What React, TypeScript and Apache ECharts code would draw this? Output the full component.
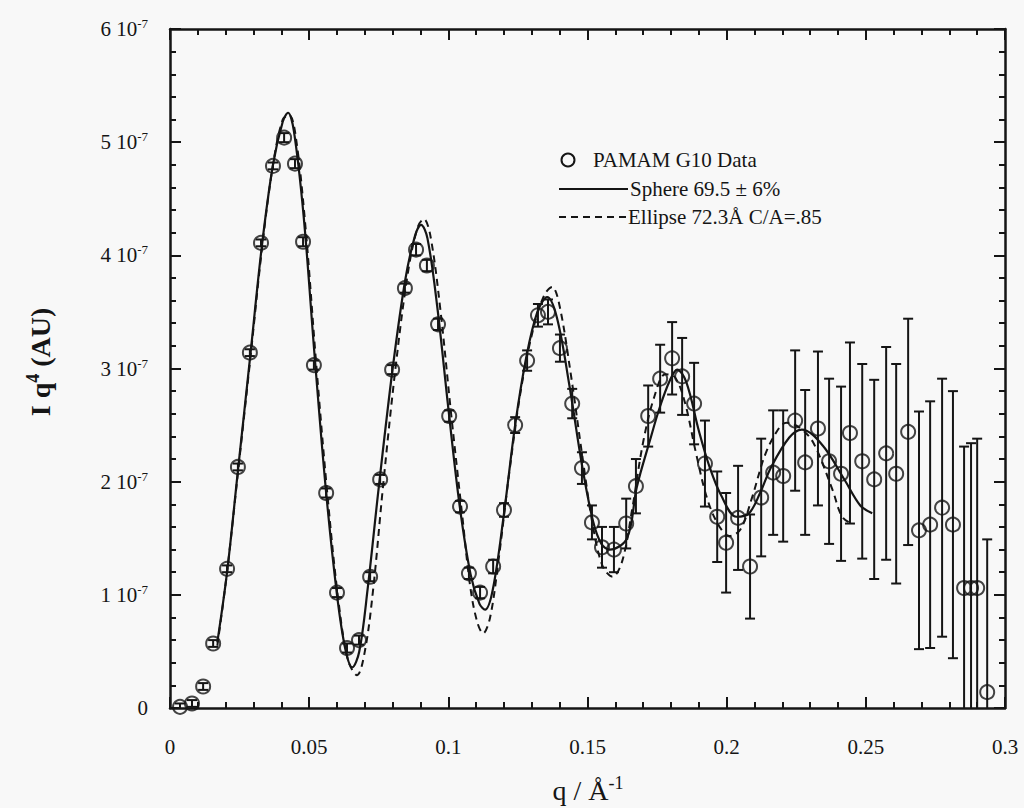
import React, { useEffect, useRef } from "react";
import * as echarts from "echarts";

// ---- data (I in units of 1e-7) ----
const qData = [0.0036, 0.0079, 0.0119, 0.0155, 0.0205, 0.0244, 0.0287, 0.0327, 0.0370, 0.0410, 0.0449, 0.0478, 0.0517, 0.0561, 0.0600, 0.0636, 0.0679, 0.0719, 0.0755, 0.0798, 0.0844, 0.0884, 0.0923, 0.0963, 0.1003, 0.1042, 0.1074, 0.1114, 0.1161, 0.1200, 0.1240, 0.1283, 0.1322, 0.1358, 0.1401, 0.1445, 0.1480, 0.1516, 0.1552, 0.1595, 0.1639, 0.1674, 0.1718, 0.1761, 0.1804, 0.1840, 0.1883, 0.1922, 0.1966, 0.1998, 0.2041, 0.2084, 0.2124, 0.2167, 0.2203, 0.2246, 0.2282, 0.2328, 0.2368, 0.2411, 0.2443, 0.2487, 0.2530, 0.2573, 0.2609, 0.2652, 0.2691, 0.2731, 0.2774, 0.2813, 0.2853, 0.2878, 0.2900, 0.2936];
const iData = [0.01, 0.04, 0.19, 0.57, 1.23, 2.13, 3.14, 4.11, 4.79, 5.04, 4.81, 4.12, 3.03, 1.90, 1.02, 0.53, 0.60, 1.16, 2.02, 2.99, 3.71, 4.05, 3.91, 3.39, 2.58, 1.78, 1.19, 1.02, 1.25, 1.75, 2.50, 3.07, 3.47, 3.50, 3.18, 2.69, 2.12, 1.64, 1.42, 1.40, 1.63, 1.96, 2.58, 2.91, 3.09, 2.93, 2.69, 2.16, 1.69, 1.46, 1.68, 1.25, 1.86, 2.08, 2.05, 2.54, 2.17, 2.47, 2.18, 2.07, 2.43, 2.18, 2.02, 2.25, 2.07, 2.44, 1.57, 1.62, 1.77, 1.62, 1.06, 1.06, 1.06, 0.14];
const errData = [0.03, 0.03, 0.03, 0.03, 0.03, 0.03, 0.03, 0.03, 0.03, 0.04, 0.04, 0.04, 0.04, 0.04, 0.04, 0.04, 0.04, 0.04, 0.04, 0.04, 0.04, 0.05, 0.05, 0.05, 0.05, 0.05, 0.05, 0.05, 0.06, 0.06, 0.07, 0.09, 0.10, 0.11, 0.12, 0.13, 0.14, 0.15, 0.18, 0.20, 0.22, 0.24, 0.27, 0.30, 0.32, 0.34, 0.36, 0.38, 0.40, 0.44, 0.46, 0.46, 0.52, 0.55, 0.58, 0.62, 0.64, 0.68, 0.73, 0.77, 0.80, 0.86, 0.88, 0.94, 0.97, 1.00, 1.05, 1.09, 1.14, 1.18, 1.25, 1.28, 1.32, 1.35];

const sphereQ = [0.017, 0.0205, 0.0245, 0.029, 0.033, 0.037, 0.0405, 0.0424, 0.0445, 0.048, 0.052, 0.056, 0.060, 0.063, 0.0655, 0.068, 0.071, 0.075, 0.080, 0.0845, 0.088, 0.0902, 0.0925, 0.096, 0.100, 0.104, 0.108, 0.1112, 0.1132, 0.116, 0.120, 0.124, 0.128, 0.132, 0.1355, 0.139, 0.1435, 0.148, 0.152, 0.155, 0.158, 0.1642, 0.1677, 0.1725, 0.176, 0.1797, 0.1822, 0.1855, 0.190, 0.194, 0.198, 0.2035, 0.208, 0.212, 0.216, 0.2225, 0.227, 0.2345, 0.2425, 0.248, 0.2523];
const sphereI = [0.58, 1.2, 2.12, 3.15, 4.08, 4.8, 5.18, 5.26, 5.1, 4.35, 3.1, 1.93, 1.0, 0.52, 0.36, 0.5, 1.05, 1.95, 3.0, 3.78, 4.17, 4.27, 4.15, 3.55, 2.65, 1.8, 1.18, 0.92, 0.87, 1.05, 1.72, 2.5, 3.1, 3.5, 3.63, 3.45, 2.85, 2.15, 1.65, 1.45, 1.40, 1.50, 1.95, 2.37, 2.66, 2.9, 2.99, 2.88, 2.45, 2.12, 1.88, 1.69, 1.72, 1.9, 2.13, 2.39, 2.46, 2.32, 2.01, 1.79, 1.72];

const ellipseQ = [0.017, 0.0205, 0.0245, 0.029, 0.033, 0.037, 0.0405, 0.0428, 0.045, 0.0485, 0.0525, 0.0565, 0.0605, 0.064, 0.0672, 0.070, 0.073, 0.0765, 0.081, 0.0855, 0.089, 0.0912, 0.0935, 0.097, 0.101, 0.105, 0.108, 0.1105, 0.1125, 0.115, 0.118, 0.122, 0.126, 0.1305, 0.1345, 0.1373, 0.140, 0.144, 0.148, 0.152, 0.1555, 0.159, 0.1625, 0.166, 0.170, 0.174, 0.178, 0.1815, 0.185, 0.189, 0.193, 0.197, 0.201, 0.205, 0.209, 0.214, 0.219, 0.2215, 0.226, 0.231, 0.238, 0.2415, 0.2455];
const ellipseI = [0.55, 1.2, 2.1, 3.12, 4.05, 4.8, 5.2, 5.24, 5.08, 4.3, 3.05, 1.9, 0.95, 0.42, 0.29, 0.5, 1.05, 1.95, 3.0, 3.85, 4.25, 4.32, 4.18, 3.55, 2.6, 1.7, 1.05, 0.75, 0.66, 0.8, 1.3, 2.1, 2.8, 3.35, 3.65, 3.72, 3.55, 2.95, 2.25, 1.6, 1.25, 1.16, 1.3, 1.75, 2.35, 2.75, 2.95, 2.92, 2.7, 2.25, 1.85, 1.62, 1.52, 1.58, 1.85, 2.25, 2.48, 2.52, 2.48, 2.35, 1.93, 1.69, 1.62];

const xTicks = ["0", "0.05", "0.1", "0.15", "0.2", "0.25", "0.3"];
const yTicks = [0, 1, 2, 3, 4, 5, 6];

const FONT = "Liberation Serif";
const INK = "#151515";

export default function App() {
  const ref = useRef<HTMLDivElement>(null);
  useEffect(() => {
    if (!ref.current) return;
    const chart = echarts.init(ref.current, undefined, { renderer: "svg" });
    const pts = qData.map((q, i) => [q, iData[i], errData[i]]);
    const sphere = sphereQ.map((q, i) => [q, sphereI[i]]);
    const ellipse = ellipseQ.map((q, i) => [q, ellipseI[i]]);

    const axisCommon = {
      min: 0,
      axisLine: { show: true, onZero: false, lineStyle: { color: INK, width: 2.5 } },
      axisTick: { show: true, inside: true, length: 11, lineStyle: { color: INK, width: 2 } },
      minorTick: { show: true, splitNumber: 5, length: 6, lineStyle: { color: INK, width: 2 } },
      splitLine: { show: false },
      minorSplitLine: { show: false },
    };

    chart.setOption({
      animation: false,
      backgroundColor: "#f8f8f8",
      grid: { left: 170, right: 19, top: 29, bottom: 100 },
      xAxis: [
        {
          ...axisCommon,
          type: "value",
          max: 0.3,
          interval: 0.05,
          position: "bottom",
          axisLabel: {
            margin: 28,
            color: INK,
            fontFamily: FONT,
            fontSize: 21,
            formatter: (v: number) => xTicks[Math.round(v / 0.05)] ?? "",
          },
        },
        {
          ...axisCommon,
          type: "value",
          max: 0.3,
          interval: 0.05,
          position: "top",
          axisLabel: { show: false },
        },
      ],
      yAxis: [
        {
          ...axisCommon,
          type: "value",
          max: 6,
          interval: 1,
          position: "left",
          axisLabel: {
            margin: 22,
            color: INK,
            fontFamily: FONT,
            fontSize: 21,
            formatter: (v: number) =>
              v === 0 ? "0" : `${yTicks[Math.round(v)]} 10{s|-7}`,
            rich: {
              s: { fontSize: 13, fontFamily: FONT, color: INK, padding: [0, 0, 11, 0] },
            },
          },
        },
        {
          ...axisCommon,
          type: "value",
          max: 6,
          interval: 1,
          position: "right",
          axisLabel: { show: false },
        },
      ],
      series: [
        {
          name: "Sphere 69.5 ± 6%",
          type: "line",
          data: sphere,
          smooth: 0.35,
          showSymbol: false,
          lineStyle: { color: INK, width: 2.2 },
          z: 3,
        },
        {
          name: "Ellipse 72.3Å C/A=.85",
          type: "line",
          data: ellipse,
          smooth: 0.35,
          showSymbol: false,
          lineStyle: { color: INK, width: 2, type: [7, 5] },
          z: 3,
        },
        {
          name: "errors",
          type: "custom",
          data: pts,
          z: 4,
          renderItem: (params: any, api: any) => {
            const x = api.value(0);
            const y = api.value(1);
            const e = api.value(2);
            const top = api.coord([x, y + e]);
            const bot = api.coord([x, y - e]);
            const cs = params.coordSys;
            const yMax = cs.y + cs.height;
            const by = Math.min(bot[1], yMax);
            const hw = 5;
            const style = { stroke: INK, lineWidth: 2 };
            const children: any[] = [
              { type: "line", shape: { x1: top[0], y1: top[1], x2: top[0], y2: by }, style },
              { type: "line", shape: { x1: top[0] - hw, y1: top[1], x2: top[0] + hw, y2: top[1] }, style },
            ];
            if (bot[1] <= yMax) {
              children.push({ type: "line", shape: { x1: bot[0] - hw, y1: bot[1], x2: bot[0] + hw, y2: bot[1] }, style });
            }
            return { type: "group", children };
          },
        },
        {
          name: "PAMAM G10 Data",
          type: "scatter",
          data: pts.map((p) => [p[0], p[1]]),
          symbol: "circle",
          symbolSize: 14,
          itemStyle: { color: "rgba(0,0,0,0)", borderColor: INK, borderWidth: 2 },
          z: 5,
        },
      ],
      graphic: [
        { type: "circle", shape: { cx: 568, cy: 160, r: 6.5 }, style: { fill: "none", stroke: INK, lineWidth: 2 } },
        { type: "text", x: 593, y: 160, style: { text: "PAMAM G10 Data", fontFamily: FONT, fontSize: 21, fill: INK, verticalAlign: "middle" } },
        { type: "line", shape: { x1: 559, y1: 189, x2: 628, y2: 189 }, style: { stroke: INK, lineWidth: 2 } },
        { type: "text", x: 630, y: 189, style: { text: "Sphere 69.5 ± 6%", fontFamily: FONT, fontSize: 21, fill: INK, verticalAlign: "middle" } },
        { type: "line", shape: { x1: 559, y1: 217, x2: 626, y2: 217 }, style: { stroke: INK, lineWidth: 2, lineDash: [7, 5] } },
        { type: "text", x: 628, y: 217, style: { text: "Ellipse 72.3Å C/A=.85", fontFamily: FONT, fontSize: 21, fill: INK, verticalAlign: "middle" } },
        {
          type: "text",
          x: 40,
          y: 362,
          rotation: Math.PI / 2,
          style: {
            text: "I q{s|4} (AU)",
            fontFamily: FONT,
            fontSize: 28,
            fontWeight: "bold",
            fill: INK,
            align: "center",
            verticalAlign: "middle",
            rich: { s: { fontFamily: FONT, fontSize: 18, fontWeight: "bold", fill: INK, padding: [0, 0, 14, 0] } },
          },
        },
        {
          type: "text",
          x: 588,
          y: 790,
          style: {
            text: "q / Å{s|-1}",
            fontFamily: FONT,
            fontSize: 28,
            fill: INK,
            align: "center",
            verticalAlign: "middle",
            rich: { s: { fontFamily: FONT, fontSize: 18, fill: INK, padding: [0, 0, 14, 0] } },
          },
        },
      ],
    });
    return () => chart.dispose();
  }, []);
  return (
    <div
      ref={ref}
      style={{ position: "absolute", left: 0, top: 0, width: 1024, height: 808 }}
    />
  );
}
